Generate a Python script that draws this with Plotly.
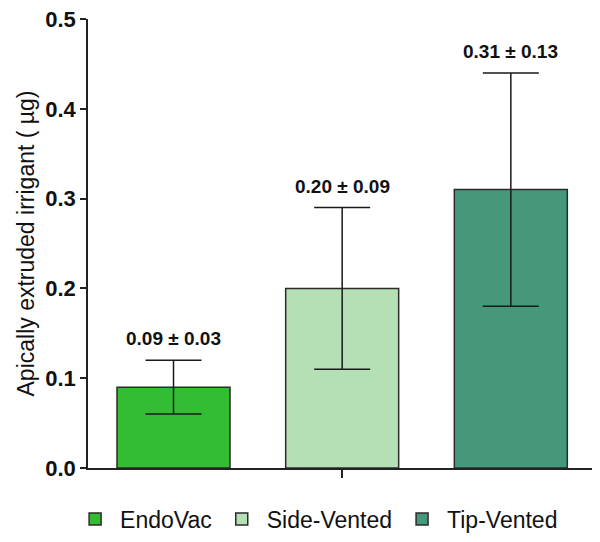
import plotly.graph_objects as go

groups = ["EndoVac", "Side-Vented", "Tip-Vented"]
means = [0.09, 0.20, 0.31]
sds = [0.03, 0.09, 0.13]
colors = ["#33BD33", "#B5DFB5", "#45997A"]
y_ticks = [0.0, 0.1, 0.2, 0.3, 0.4, 0.5]

fig = go.Figure()
for i, (g, m, s, c) in enumerate(zip(groups, means, sds, colors)):
    fig.add_trace(go.Bar(
        x=[i], y=[m], name=g, width=0.67,
        marker=dict(color=c, line=dict(color="#2b2b2b", width=1.5)),
        error_y=dict(type="data", array=[s], visible=True, color="#1a1a1a",
                     thickness=1.5, width=28),
    ))
    fig.add_annotation(
        x=i, y=m + s, text=f"<b>{m:.2f} ± {s:.2f}</b>", showarrow=False,
        yanchor="bottom", yshift=9,
        font=dict(family="Liberation Sans Narrow, Liberation Sans, Arial", size=19, color="#111"),
    )

# page body has an 8px default margin, so the figure is 8px smaller
fig.update_layout(
    width=592, height=534,
    margin=dict(l=80, r=4, t=11, b=74, autoexpand=False),
    plot_bgcolor="white", paper_bgcolor="white",
    barmode="overlay",
    showlegend=True,
    legend=dict(orientation="h", x=0.45, xanchor="center", y=-0.066, yanchor="top",
                font=dict(family="Liberation Sans, Arial", size=23, color="#111"),
                itemwidth=40, traceorder="normal"),
    font=dict(family="Liberation Sans, Arial", color="#111"),
)
fig.update_xaxes(
    range=[-0.507, 2.505], tickvals=[1], ticktext=[""], ticks="outside", ticklen=8,
    tickwidth=1.5, tickcolor="#222", showline=True, linecolor="#222", linewidth=1.5,
    showgrid=False, zeroline=False, automargin=False,
)
fig.update_yaxes(
    range=[0, 0.5], tickvals=y_ticks, ticktext=[f"<b>{v:.1f}</b>" for v in y_ticks],
    ticks="outside", ticklen=6, tickwidth=1.5, tickcolor="#222",
    showline=True, linecolor="#222", linewidth=1.5, showgrid=False, zeroline=False,
    automargin=False, ticklabeloverflow="allow",
    tickfont=dict(family="Liberation Sans, Arial", size=22, color="#111"),
    title=dict(text="Apically extruded irrigant ( µg)", standoff=4,
               font=dict(family="Liberation Sans, Arial", size=23, color="#111")),
)

fig.write_html("out.html")
